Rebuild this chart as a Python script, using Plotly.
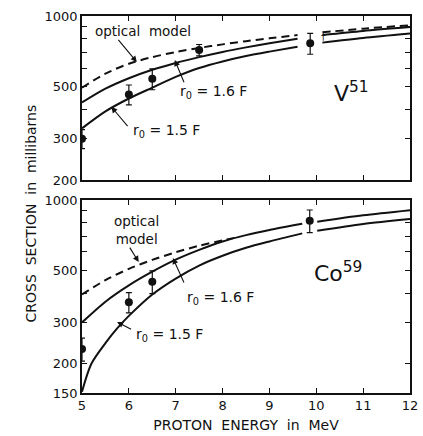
import plotly.graph_objects as go
from plotly.subplots import make_subplots
import math

# ---- V51 (upper panel) ----
v_exp_e = [5.0, 6.0, 6.5, 7.5, 9.87]
v_exp_sig = [300, 463, 540, 716, 765]
v_exp_err = [28, 45, 55, 40, 78]

v_curve_e = [5.0, 5.5, 6.0, 6.5, 7.0, 7.5, 8.0, 8.5, 9.0, 9.6, None, 10.13, 11.0, 12.0]
v_optical = [495, 568, 626, 668, 702, 731, 757, 781, 803, 830, None, 852, 883, 913]
v_r16 = [428, 490, 543, 590, 631, 668, 703, 735, 765, 800, None, 830, 864, 897]
v_r15 = [332, 392, 445, 495, 550, 600, 640, 675, 705, 740, None, 770, 806, 842]

# ---- Co59 (lower panel) ----
co_exp_e = [5.0, 6.0, 6.5, 9.86]
co_exp_sig = [231, 366, 448, 816]
co_exp_err = [26, 36, 50, 90]

co_opt_e = [5.0, 5.5, 6.0, 6.5, 7.0, 7.5, 8.0, 8.3]
co_optical = [395, 455, 508, 555, 598, 638, 672, 692]
co_curve_e = [5.0, 5.5, 6.0, 6.5, 7.0, 7.5, 8.0, 8.5, 9.0, 9.7, None, 10.02, 11.0, 12.0]
co_r16 = [300, 368, 432, 494, 556, 612, 665, 708, 745, 792, None, 808, 860, 905]
co_r15_e = [5.0, 5.2, 5.5, 5.75, 6.0, 6.5, 7.0, 7.5, 8.0, 8.5, 9.0, 9.7, None, 10.02, 11.0, 12.0]
co_r15 = [152, 200, 245, 283, 320, 395, 462, 525, 578, 625, 665, 720, None, 739, 790, 830]

x_ticks = [5, 6, 7, 8, 9, 10, 11, 12]
top_major = [200, 300, 500, 1000]
top_minor = [400, 600, 700, 800, 900]
bot_major = [150, 200, 300, 500, 1000]
bot_minor = [400, 600, 700, 800, 900]

FONT = "DejaVu Sans"
INK = "#111111"

fig = make_subplots(rows=2, cols=1, shared_xaxes=False, vertical_spacing=0.05)


def add_panel(row, opt_e, opt, r16_e, r16, r15_e, r15, ex, ey, eerr):
    line = dict(color=INK, width=2, shape="spline", smoothing=0.8)
    fig.add_trace(go.Scatter(x=opt_e, y=opt, mode="lines",
                             line=dict(line, dash="8px,5px"),
                             connectgaps=False, showlegend=False), row=row, col=1)
    fig.add_trace(go.Scatter(x=r16_e, y=r16, mode="lines", line=line,
                             connectgaps=False, showlegend=False), row=row, col=1)
    fig.add_trace(go.Scatter(x=r15_e, y=r15, mode="lines", line=line,
                             connectgaps=False, showlegend=False), row=row, col=1)
    fig.add_trace(go.Scatter(
        x=ex, y=ey, mode="markers",
        marker=dict(color=INK, size=8),
        error_y=dict(type="data", array=eerr, visible=True,
                     color=INK, thickness=1.2, width=3),
        showlegend=False), row=row, col=1)


add_panel(1, v_curve_e, v_optical, v_curve_e, v_r16, v_curve_e, v_r15,
          v_exp_e, v_exp_sig, v_exp_err)
add_panel(2, co_opt_e, co_optical, co_curve_e, co_r16, co_r15_e, co_r15,
          co_exp_e, co_exp_sig, co_exp_err)

axis_common = dict(showline=True, linecolor=INK, linewidth=1.5, mirror="ticks",
                   ticks="inside", ticklen=5, tickcolor=INK, tickwidth=1.2,
                   showgrid=False, zeroline=False,
                   tickfont=dict(family=FONT, size=13, color=INK))

fig.update_xaxes(axis_common, range=[5, 12], tickvals=x_ticks,
                 ticklabeloverflow="allow")
fig.update_xaxes(showticklabels=False, row=1, col=1)
fig.update_xaxes(ticktext=[str(v) for v in x_ticks], row=2, col=1,
                 title=dict(text="PROTON  ENERGY  in  MeV", standoff=8,
                            font=dict(family=FONT, size=14, color=INK)))

minor_style = dict(ticks="inside", ticklen=5, tickcolor=INK, tickwidth=1.2)
fig.update_yaxes(axis_common, type="log")
fig.update_yaxes(range=[math.log10(200), 3], tickvals=top_major,
                 ticktext=[str(v) for v in top_major],
                 minor=dict(minor_style, tickvals=top_minor), row=1, col=1)
fig.update_yaxes(range=[math.log10(150), 3], tickvals=bot_major,
                 ticktext=[str(v) for v in bot_major],
                 minor=dict(minor_style, tickvals=bot_minor), row=2, col=1)

fig.update_layout(
    width=423, height=436,
    margin=dict(l=82, r=5, t=16, b=43),
    paper_bgcolor="white", plot_bgcolor="white",
    font=dict(family=FONT, color=INK),
    xaxis=dict(domain=[0, 1]),
    yaxis=dict(domain=[0.565, 1.0]),
    yaxis2=dict(domain=[0.0, 0.512]),
)

# vertical axis title shared by both panels
fig.add_annotation(xref="paper", yref="paper", x=-0.185, y=0.477,
                   text="CROSS  SECTION  in  millibarns", textangle=-90,
                   showarrow=False,
                   font=dict(family=FONT, size=14, color=INK))

LABEL = dict(family=FONT, size=14, color=INK)


def label(xr, yr, x, y_log, text, anchor="left", size=14):
    fig.add_annotation(xref=xr, yref=yr, x=x, y=y_log, text=text,
                       showarrow=False, xanchor=anchor, yanchor="middle",
                       font=dict(LABEL, size=size))


def pointer(xr, yr, x_head, y_head, x_tail, y_tail):
    # leader line from a label towards the curve it names (log axes take log10 values)
    fig.add_annotation(xref=xr, yref=yr, axref=xr, ayref=yr,
                       x=x_head, y=y_head, ax=x_tail, ay=y_tail,
                       text="", showarrow=True, arrowhead=2, arrowsize=1.1,
                       arrowwidth=1.1, arrowcolor=INK, standoff=0, startstandoff=0)


# upper panel labels
label("x", "y", 6.31, 2.935, "optical  model", anchor="center", size=13.5)
pointer("x", "y", 6.17, 2.804, 5.75, 2.905)
label("x", "y", 7.04, 2.676, "r<sub>0</sub> = 1.6 F")
pointer("x", "y", 6.98, 2.812, 7.19, 2.711)
label("x", "y", 6.04, 2.512, "r<sub>0</sub> = 1.5 F")
pointer("x", "y", 5.625, 2.613, 6.0, 2.524)
label("x", "y", 10.33, 2.676, "V<sup>51</sup>", size=22)
label("x", "y", 10.06, 2.912, "†", size=9)

# lower panel labels
label("x2", "y2", 6.17, 2.872, "optical<br>model", anchor="center", size=13.5)
pointer("x2", "y2", 6.21, 2.735, 6.0, 2.803)
label("x2", "y2", 7.19, 2.581, "r<sub>0</sub> = 1.6 F")
pointer("x2", "y2", 6.94, 2.752, 7.19, 2.641)
label("x2", "y2", 6.12, 2.423, "r<sub>0</sub> = 1.5 F")
pointer("x2", "y2", 5.75, 2.479, 6.08, 2.445)
label("x2", "y2", 9.9, 2.692, "Co<sup>59</sup>", size=22)

fig.write_html("out.html")
